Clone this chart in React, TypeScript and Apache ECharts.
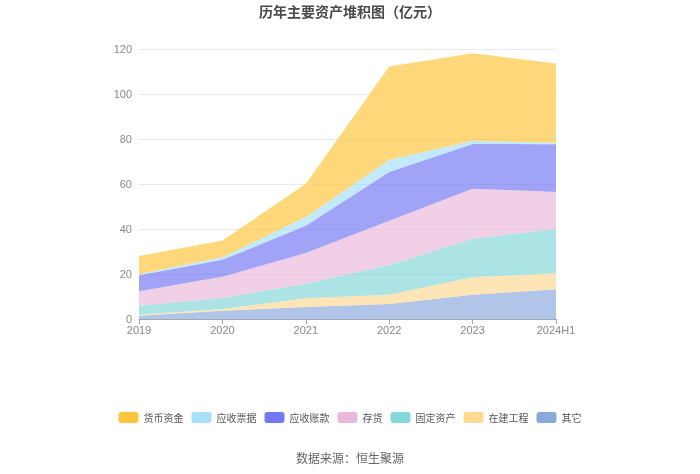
import React, { useEffect, useRef } from "react";
import * as echarts from "echarts";

const categories = ["2019", "2020", "2021", "2022", "2023", "2024H1"];
const seriesNames = ["其它", "在建工程", "固定资产", "存货", "应收账款", "应收票据", "货币资金"];
const legendOrder = ["货币资金", "应收票据", "应收账款", "存货", "固定资产", "在建工程", "其它"];
const other = [1.5, 3.7, 5.3, 6.7, 10.8, 13.2];
const construction = [0.4, 0.7, 3.9, 4.1, 7.8, 7.1];
const fixedAssets = [4.0, 4.9, 6.5, 13.2, 17.1, 19.7];
const inventory = [6.4, 9.5, 13.6, 19.7, 22.2, 16.5];
const receivables = [7.1, 7.5, 12.1, 21.6, 19.9, 21.2];
const notes = [0.6, 1.1, 3.9, 5.4, 1.4, 0.6];
const cash = [8.0, 7.5, 14.8, 41.5, 38.9, 35.3];

const colors = ["#8AA9DB", "#FFD993", "#85D7D9", "#EAB8DA", "#7579F1", "#A6E0FA", "#FFC53D"];
const values = [other, construction, fixedAssets, inventory, receivables, notes, cash];

export default function App() {
  const ref = useRef<HTMLDivElement>(null);
  useEffect(() => {
    const chart = echarts.init(ref.current!, null, { renderer: "svg" });
    chart.setOption({
      animation: false,
      title: {
        text: "历年主要资产堆积图（亿元）",
        left: "center",
        top: 4,
        padding: 0,
        textStyle: { fontSize: 14, fontWeight: "bold", color: "#4a4a4a", fontFamily: "Noto Sans CJK SC" },
      },
      legend: {
        data: legendOrder,
        top: 412,
        left: "center",
        padding: 0,
        itemWidth: 20,
        itemHeight: 11,
        itemGap: 8,
        icon: "roundRect",
        textStyle: { fontSize: 10, color: "#555", fontFamily: "Noto Sans CJK SC" },
      },
      graphic: [
        {
          type: "text",
          left: "center",
          top: 451,
          style: { text: "数据来源：恒生聚源", fontSize: 12, fill: "#666", fontFamily: "Noto Sans CJK SC" },
        },
      ],
      grid: { left: 139, right: 144, top: 49, bottom: 155 },
      xAxis: {
        type: "category",
        data: categories,
        boundaryGap: false,
        axisLine: { lineStyle: { color: "#a0a7b8" } },
        axisTick: { lineStyle: { color: "#a0a7b8" } },
        axisLabel: { color: "#888", fontSize: 11, margin: 5 },
      },
      yAxis: {
        type: "value",
        min: 0,
        max: 120,
        interval: 20,
        axisLine: { show: false },
        axisTick: { show: false },
        axisLabel: { color: "#888", fontSize: 11, margin: 7 },
        splitLine: { lineStyle: { color: "#e6e9f2" } },
      },
      series: seriesNames.map((n, i) => ({
        name: n,
        type: "line",
        stack: "total",
        data: values[i],
        symbol: "none",
        lineStyle: { width: 0 },
        itemStyle: { color: colors[i] },
        areaStyle: { color: colors[i], opacity: 0.68 },
      })),
    });
    return () => chart.dispose();
  }, []);
  return <div ref={ref} style={{ position: "fixed", left: 0, top: 0, width: 700, height: 474 }} />;
}
